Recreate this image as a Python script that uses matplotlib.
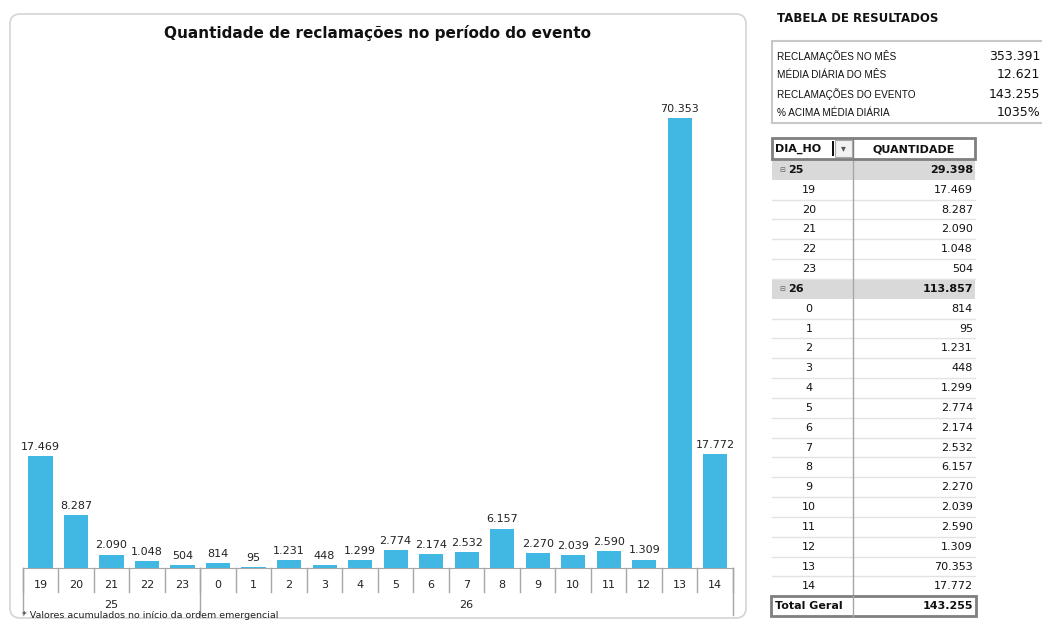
import matplotlib.pyplot as plt
from matplotlib.patches import FancyBboxPatch, Rectangle
from matplotlib.transforms import blended_transform_factory

# Dados do evento (dia / hora / quantidade de reclamações)
dias = ['25'] * 5 + ['26'] * 15
horas = ['19', '20', '21', '22', '23', '0', '1', '2', '3', '4', '5', '6', '7',
         '8', '9', '10', '11', '12', '13', '14']
quantidade = [17469, 8287, 2090, 1048, 504, 814, 95, 1231, 448, 1299, 2774,
              2174, 2532, 6157, 2270, 2039, 2590, 1309, 70353, 17772]

resumo_rotulos = ['RECLAMAÇÕES NO MÊS', 'MÉDIA DIÁRIA DO MÊS',
                  'RECLAMAÇÕES DO EVENTO', '% ACIMA MÉDIA DIÁRIA']
resumo_valores = ['353.391', '12.621', '143.255', '1035%']

W, H = 1042, 621
COR_BARRA = '#41B8E4'


def fmt(v):
    return f'{v:,}'.replace(',', '.')


fig = plt.figure(figsize=(W / 100, H / 100), dpi=100)

# camada de fundo em pixels
bg = fig.add_axes([0, 0, 1, 1], zorder=0)
bg.set_xlim(0, W)
bg.set_ylim(H, 0)
bg.axis('off')

# moldura do gráfico
bg.add_patch(FancyBboxPatch((10, 14), 736, 604,
                            boxstyle='round,pad=0,rounding_size=10',
                            fc='white', ec='#d4d4d4', lw=1.2))

# --- gráfico de barras ---
base_px, topo_px, esq_px, dir_px = 568, 56.3, 22.7, 733
ax = fig.add_axes([esq_px / W, (H - base_px) / H, (dir_px - esq_px) / W,
                   (base_px - topo_px) / H], zorder=1)
ax.patch.set_alpha(0)
n = len(quantidade)
x = list(range(n))
barras = ax.bar(x, quantidade, width=0.68, color=COR_BARRA, zorder=2)
ax.bar_label(barras, labels=[fmt(v) for v in quantidade], padding=3,
             fontsize=8, color='#222222')
ax.set_xlim(-0.5, n - 0.5)
ax.set_ylim(0, 80000)
for s in ['top', 'right', 'left']:
    ax.spines[s].set_visible(False)
ax.spines['bottom'].set_color('#a6a6a6')
ax.set_yticks([])
ax.set_xticks(x)
ax.set_xticklabels(horas, fontsize=8, color='#222222')
ax.tick_params(axis='x', length=0, pad=9)

tr = blended_transform_factory(ax.transData, ax.transAxes)
h_ax = base_px - topo_px
for i in range(n + 1):
    ax.plot([i - 0.5, i - 0.5], [0, -24 / h_ax], color='#a6a6a6', lw=1,
            transform=tr, clip_on=False)

# divisões entre dias
limites = [0] + [i for i in range(1, n) if dias[i] != dias[i - 1]] + [n]
for b in limites:
    ax.plot([b - 0.5, b - 0.5], [0, -47 / h_ax], color='#a6a6a6', lw=1,
            transform=tr, clip_on=False)
for a, b in zip(limites[:-1], limites[1:]):
    ax.text((a + b - 1) / 2, -37 / h_ax, dias[a], transform=tr, ha='center',
            va='center', fontsize=8, color='#222222')

fig.text(378 / W, 1 - 33 / H, 'Quantidade de reclamações no período do evento',
         ha='center', va='center', fontsize=11, fontweight='bold',
         color='#111111')
fig.text(22 / W, 1 - 615.5 / H, '* Valores acumulados no início da ordem emergencial',
         ha='left', va='center', fontsize=6.8, color='#222222')

# --- tabela de resultados ---
bg.text(777, 18, 'TABELA DE RESULTADOS', ha='left', va='center', fontsize=8.5,
        fontweight='heavy', color='#111111')
bg.add_patch(Rectangle((772, 41), 280, 82, fc='white', ec='#c8c8c8', lw=1.5))
for k, (rot, val) in enumerate(zip(resumo_rotulos, resumo_valores)):
    y = 56 + k * 19
    bg.text(777, y, rot, ha='left', va='center', fontsize=7.2,
            family='Liberation Sans', color='#111111')
    bg.text(1040, y, val, ha='right', va='center', fontsize=9, color='#111111')

# tabela dinâmica
linhas = []
for a, b in zip(limites[:-1], limites[1:]):
    linhas.append((dias[a], sum(quantidade[a:b]), 'grupo'))
    for i in range(a, b):
        linhas.append((horas[i], quantidade[i], 'item'))
linhas.append(('Total Geral', sum(quantidade), 'total'))

x0, xm, x1 = 772, 853, 975
y0, rh = 160, 19.83

# cabeçalho
bg.add_patch(Rectangle((x0, 138), x1 - x0, 21, fc='white', ec='#7f7f7f', lw=2,
                       zorder=3))
bg.plot([xm, xm], [138, 159], color='#7f7f7f', lw=1, zorder=4)
bg.text(775, 149, 'DIA_HO', ha='left', va='center', fontsize=8,
        fontweight='bold', color='#111111', zorder=4)
bg.add_patch(Rectangle((832, 141), 2, 15, fc='#111111', ec='none', zorder=4))
bg.add_patch(Rectangle((835, 140), 17, 17, fc='#f2f2f2', ec='#a6a6a6', lw=0.8,
                       zorder=5))
bg.text(843.5, 148.5, '▾', ha='center', va='center', fontsize=7,
        color='#555555', zorder=6)
bg.text((xm + x1) / 2, 149, 'QUANTIDADE', ha='center', va='center',
        fontsize=8, fontweight='bold', color='#111111', zorder=4)

for k, (rot, val, tipo) in enumerate(linhas):
    yt = y0 + k * rh
    yc = yt + rh / 2
    if tipo == 'grupo':
        bg.add_patch(Rectangle((x0, yt), x1 - x0, rh, fc='#d9d9d9', ec='none',
                               zorder=1))
        bg.text(782, yc, '⊟', ha='center', va='center', fontsize=5,
                color='#666666', zorder=3)
        bg.text(788, yc, rot, ha='left', va='center', fontsize=8,
                fontweight='bold', color='#111111', zorder=3)
        bg.text(973, yc, fmt(val), ha='right', va='center', fontsize=8,
                fontweight='bold', color='#111111', zorder=3)
    elif tipo == 'item':
        bg.text(809, yc, rot, ha='center', va='center', fontsize=8,
                color='#111111', zorder=3)
        bg.text(973, yc, fmt(val), ha='right', va='center', fontsize=8,
                color='#111111', zorder=3)
        bg.plot([x0, x1], [yt + rh, yt + rh], color='#e3e3e3', lw=1, zorder=2)
    else:
        bg.add_patch(Rectangle((x0 - 1, yt), x1 - x0 + 2, rh, fc='white',
                               ec='#7f7f7f', lw=2, zorder=3))
        bg.plot([xm, xm], [yt, yt + rh], color='#a6a6a6', lw=1, zorder=4)
        bg.text(775, yc, rot, ha='left', va='center', fontsize=8,
                fontweight='bold', color='#111111', zorder=4)
        bg.text(973, yc, fmt(val), ha='right', va='center', fontsize=8,
                fontweight='bold', color='#111111', zorder=4)

bg.plot([xm, xm], [159, y0 + (len(linhas) - 1) * rh], color='#a6a6a6', lw=1,
        zorder=2)

fig.savefig('out.png', dpi=100)
